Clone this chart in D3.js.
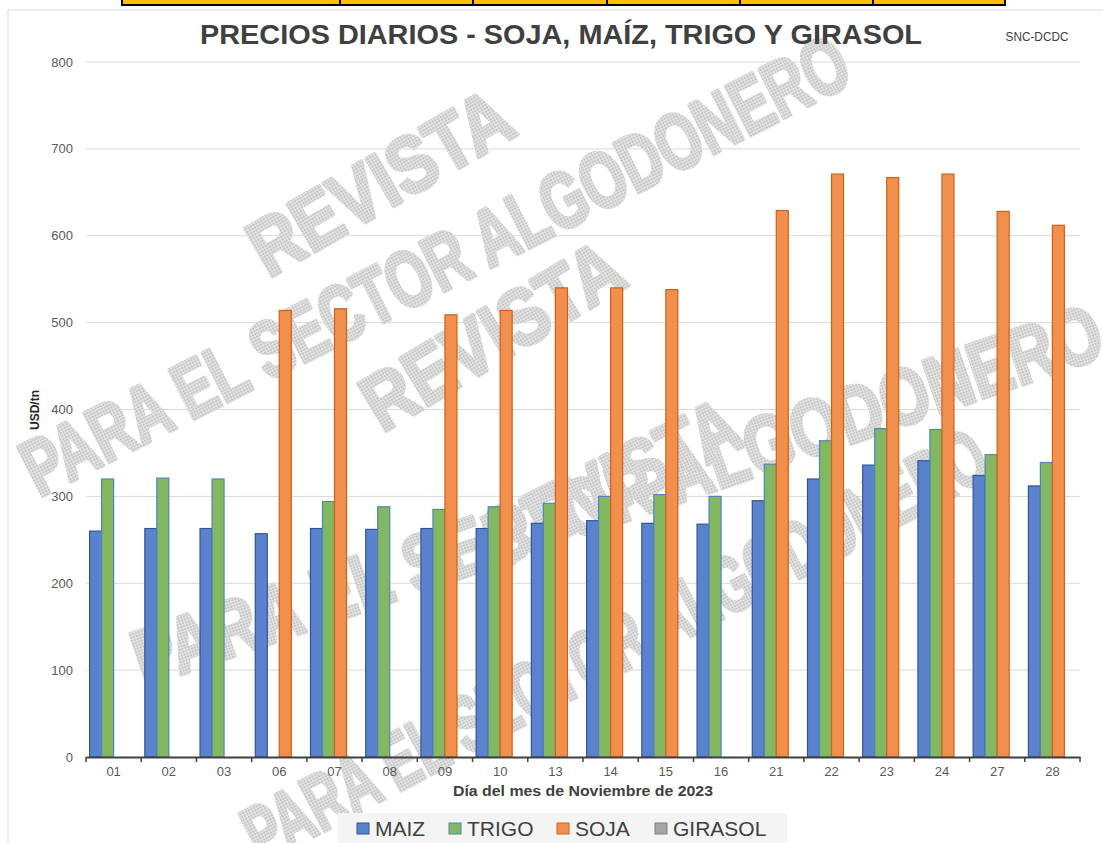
<!DOCTYPE html>
<html>
<head>
<meta charset="utf-8">
<title>precios diarios</title>
<script src="https://cdn.jsdelivr.net/npm/d3@7"></script>
<style>
body { margin: 0; background: #fff; }
text { font-family: "Liberation Sans", Arial, sans-serif; }
</style>
</head>
<body>
<svg width="1103" height="843"></svg>
<script>

// datos
var dias = ["01","02","03","06","07","08","09","10","13","14","15","16","21","22","23","24","27","28"];
var maiz = [260,263,263,257,263,262,263,263,269,272,269,268,295,320,336,341,324,312];
var trigo = [320,321,320,null,294,288,285,288,292,300,302,300,337,364,378,377,348,339];
var soja = [null,null,null,514,516,null,509,514,540,540,538,null,629,671,667,671,628,612];
var girasol = [null,null,null,null,null,null,null,null,null,null,null,null,null,null,null,null,null,null];
var series = ["MAIZ","TRIGO","SOJA","GIRASOL"];
var yTicks = [0,100,200,300,400,500,600,700,800];

var valores = { MAIZ: maiz, TRIGO: trigo, SOJA: soja, GIRASOL: girasol };
var relleno = { MAIZ: "#5b83cd", TRIGO: "#84b860", SOJA: "#f0904c", GIRASOL: "#a5a5a5" };
var borde = { MAIZ: "#2f5597", TRIGO: "#4a86bf", SOJA: "#cf611a", GIRASOL: "#7f7f7f" };

var svg = d3.select("svg");

var x = d3.scaleBand().domain(dias).range([86, 1080]).padding(0);
var xs = d3.scaleBand().domain(series).range([3.6, x.bandwidth() - 3.6]).padding(0);
var y = d3.scaleLinear().domain([0, 800]).range([757, 62]);

// tira amarilla de arriba (tabla recortada)
var cortes = [122, 340, 473, 607, 740, 873, 1005];
svg.append("rect").attr("x", 122).attr("y", -3).attr("width", 883).attr("height", 8)
  .attr("fill", "#ffc000").attr("stroke", "#000").attr("stroke-width", 2);
svg.selectAll("line.corte").data(cortes.slice(1, -1)).enter().append("line")
  .attr("x1", d => d).attr("x2", d => d).attr("y1", 0).attr("y2", 5)
  .attr("stroke", "#000").attr("stroke-width", 2);

// borde del area del grafico
svg.append("path").attr("d", "M8,843 V10 H1103")
  .attr("fill", "none").attr("stroke", "#d9d9d9").attr("stroke-width", 1);

// grilla
svg.selectAll("line.grid").data(yTicks.slice(1)).enter().append("line")
  .attr("x1", 86).attr("x2", 1080)
  .attr("y1", d => y(d)).attr("y2", d => y(d))
  .attr("stroke", "#d9d9d9").attr("stroke-width", 1);

// marca de agua
var defs = svg.append("defs");
var pat = defs.append("pattern").attr("id", "puntos").attr("patternUnits", "userSpaceOnUse")
  .attr("width", 3).attr("height", 3);
pat.append("rect").attr("width", 3).attr("height", 3).attr("fill", "#e4e4e4");
pat.append("rect").attr("width", 2).attr("height", 2).attr("fill", "#c6c6c6");

var marcas = [
  { t: "REVISTA", cx: 380, cy: 182, a: -30, len: 290 },
  { t: "PARA EL SECTOR ALGODONERO", cx: 435, cy: 265, a: -27, len: 917 },
  { t: "REVISTA", cx: 492, cy: 335, a: -31, len: 290 },
  { t: "PARA EL SECTOR ALGODONERO", cx: 617, cy: 495, a: -19, len: 1020 },
  { t: "REVISTA", cx: 612, cy: 482, a: -27, len: 275 },
  { t: "PARA EL SECTOR ALGODONERO", cx: 615, cy: 645, a: -28, len: 830 }
];
svg.append("g").selectAll("text").data(marcas).enter().append("text")
  .attr("transform", d => "translate(" + d.cx + "," + d.cy + ") rotate(" + d.a + ")")
  .attr("text-anchor", "middle").attr("dy", "0.35em")
  .attr("font-size", 80).attr("font-weight", "bold")
  .attr("textLength", d => d.len).attr("lengthAdjust", "spacingAndGlyphs")
  .attr("fill", "url(#puntos)").attr("stroke", "url(#puntos)").attr("stroke-width", 4)
  .attr("stroke-linejoin", "round")
  .text(d => d.t);

// barras
var grupos = svg.append("g").selectAll("g").data(series).enter().append("g");
grupos.selectAll("rect")
  .data(s => valores[s].map((v, i) => ({ s: s, dia: dias[i], v: v })).filter(d => d.v != null))
  .enter().append("rect")
  .attr("x", d => x(d.dia) + xs(d.s))
  .attr("width", xs.bandwidth())
  .attr("y", d => y(d.v))
  .attr("height", d => y(0) - y(d.v))
  .attr("fill", d => relleno[d.s])
  .attr("stroke", d => borde[d.s])
  .attr("stroke-width", 1.2);

// eje y
svg.append("g").selectAll("text").data(yTicks).enter().append("text")
  .attr("x", 73).attr("y", d => y(d) + 4.5)
  .attr("text-anchor", "end").attr("font-size", 13).attr("fill", "#595959")
  .text(d => d);

// eje x
var ejeX = svg.append("g").attr("transform", "translate(0,757)")
  .call(d3.axisBottom(x).tickSize(0).tickPadding(10));
ejeX.select(".domain").attr("stroke", "#404040").attr("stroke-width", 2);
ejeX.selectAll("text").attr("font-size", 13).attr("fill", "#595959")
  .attr("font-family", "Liberation Sans, Arial, sans-serif");
svg.append("g").selectAll("line").data(d3.range(dias.length + 1)).enter().append("line")
  .attr("x1", i => 86 + i * x.step()).attr("x2", i => 86 + i * x.step())
  .attr("y1", 757).attr("y2", 762)
  .attr("stroke", "#404040").attr("stroke-width", 1.5);

// titulos
svg.append("text").attr("x", 561).attr("y", 44).attr("text-anchor", "middle")
  .attr("font-size", 27).attr("font-weight", "bold").attr("fill", "#404040")
  .attr("textLength", 722).attr("lengthAdjust", "spacingAndGlyphs")
  .text("PRECIOS DIARIOS - SOJA, MAÍZ, TRIGO Y GIRASOL");
svg.append("text").attr("x", 1037).attr("y", 41).attr("text-anchor", "middle")
  .attr("font-size", 13).attr("fill", "#404040")
  .attr("textLength", 63).attr("lengthAdjust", "spacingAndGlyphs")
  .text("SNC-DCDC");
svg.append("text").attr("x", 583).attr("y", 796).attr("text-anchor", "middle")
  .attr("font-size", 14).attr("font-weight", "bold").attr("fill", "#404040")
  .attr("textLength", 260).attr("lengthAdjust", "spacingAndGlyphs")
  .text("Día del mes de Noviembre de 2023");
svg.append("text").attr("transform", "translate(39,410) rotate(-90)").attr("text-anchor", "middle")
  .attr("font-size", 12).attr("font-weight", "bold").attr("fill", "#262626")
  .text("USD/tn");

// leyenda
svg.append("rect").attr("x", 338).attr("y", 813).attr("width", 449).attr("height", 32)
  .attr("fill", "#f4f4f4");
var posLeyenda = [357, 449, 557, 655];
var ley = svg.append("g").selectAll("g").data(series).enter().append("g")
  .attr("transform", (d, i) => "translate(" + posLeyenda[i] + ",823)");
ley.append("rect").attr("width", 12).attr("height", 11)
  .attr("fill", d => relleno[d]).attr("stroke", d => borde[d]).attr("stroke-width", 1);
ley.append("text").attr("x", 18).attr("y", 12.5).attr("font-size", 21).attr("fill", "#404040")
  .text(d => d);

</script>
</body>
</html>
